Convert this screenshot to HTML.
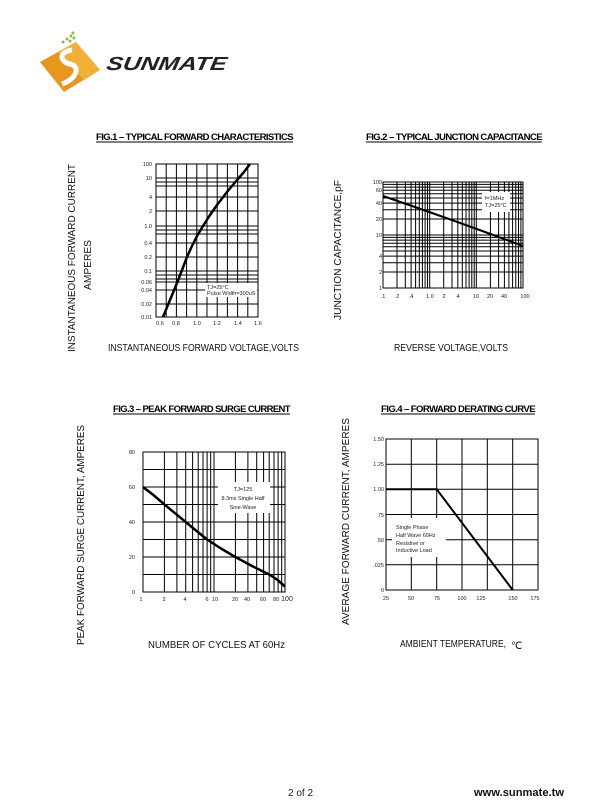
<!DOCTYPE html>
<html><head><meta charset="utf-8"><style>
html,body{margin:0;padding:0;background:#fff}
svg{display:block;font-family:"Liberation Sans",Arial,sans-serif}
.g{stroke:#000;stroke-width:1;fill:none}
.t{font-size:5.5px;fill:#222}
.tt{font-size:9.5px;font-weight:bold;letter-spacing:-0.6px}
.ax{font-size:10px;fill:#111}
</style></head><body>
<svg width="610" height="810" viewBox="0 0 610 810" xmlns="http://www.w3.org/2000/svg">
<!-- Logo -->
<g>
<polygon points="40,62 76,42 100,70 64,92" fill="#e8961e"/>
<polygon points="58,52 76,42 100,70 84,80" fill="#f2b136"/>
<path d="M72,50 C58,52 60,62 70,64 C80,66 78,78 62,84" stroke="#fff" stroke-width="5" fill="none"/>
<g fill="#9ab34a"><circle cx="63" cy="42" r="1.5"/><circle cx="67" cy="39" r="1.5"/><circle cx="71" cy="36" r="1.5"/><circle cx="70" cy="41" r="1.5"/><circle cx="74" cy="38" r="1.5"/><circle cx="73" cy="33" r="1.5"/></g>
<text x="106" y="70" font-size="19" font-weight="bold" font-style="italic" fill="#222" textLength="120" lengthAdjust="spacingAndGlyphs" transform="skewX(-10) translate(12,0)">SUNMATE</text>
</g>

<!-- Titles -->
<text class="tt" x="96" y="140" textLength="197" lengthAdjust="spacingAndGlyphs">FIG.1 – TYPICAL FORWARD CHARACTERISTICS</text>
<line x1="96" y1="142" x2="293" y2="142" stroke="#000"/>
<text class="tt" x="366" y="140" textLength="176" lengthAdjust="spacingAndGlyphs">FIG.2 – TYPICAL JUNCTION CAPACITANCE</text>
<line x1="366" y1="142" x2="542" y2="142" stroke="#000"/>
<text class="tt" x="113" y="412" textLength="177" lengthAdjust="spacingAndGlyphs">FIG.3 – PEAK FORWARD SURGE CURRENT</text>
<line x1="113" y1="414" x2="290" y2="414" stroke="#000"/>
<text class="tt" x="381" y="412" textLength="154" lengthAdjust="spacingAndGlyphs">FIG.4 – FORWARD DERATING CURVE</text>
<line x1="381" y1="414" x2="535" y2="414" stroke="#000"/>

<!-- FIG1 -->
<g class="g">
<rect x="156" y="164" width="102" height="153"/>
<path d="M166.2,164V317M176.4,164V317M186.6,164V317M196.8,164V317M207,164V317M217.2,164V317M227.4,164V317M237.6,164V317M247.8,164V317"/>
<path d="M156,178H258M156,182H258M156,186H258M156,197H258M156,211H258M156,226H258M156,230H258M156,234H258M156,243H258M156,257H258M156,271H258M156,275H258M156,279H258M156,282H258M156,290H258M156,304H258"/>
</g>
<rect x="205" y="283" width="52" height="14" fill="#fff"/>
<text class="t" x="207" y="289">TJ=25°C</text>
<text class="t" x="207" y="295">Pulse Width=300uS</text>
<polyline points="163,317 170,300 177,283 182,270 187,257 192,246 197,236 203,226 210,215 217,205 227,192 237,180 244,172 250,164" stroke="#000" stroke-width="2.5" fill="none" stroke-linejoin="round"/>
<g class="t" text-anchor="end">
<text x="152" y="166">100</text><text x="152" y="180">10</text><text x="152" y="199">4</text><text x="152" y="213">2</text><text x="152" y="228">1.0</text><text x="152" y="245">0.4</text><text x="152" y="259">0.2</text><text x="152" y="273">0.1</text><text x="152" y="284">0.06</text><text x="152" y="292">0.04</text><text x="152" y="306">0.02</text><text x="152" y="319">0.01</text>
</g>
<g class="t" text-anchor="middle">
<text x="160" y="325">0.6</text><text x="176" y="325">0.8</text><text x="197" y="325">1.0</text><text x="217" y="325">1.2</text><text x="238" y="325">1.4</text><text x="258" y="325">1.6</text>
</g>
<text class="ax" x="108" y="351" textLength="191" lengthAdjust="spacingAndGlyphs">INSTANTANEOUS FORWARD VOLTAGE,VOLTS</text>
<text class="ax" transform="translate(75,352) rotate(-90)" textLength="188" lengthAdjust="spacingAndGlyphs">INSTANTANEOUS FORWARD CURRENT</text>
<text class="ax" transform="translate(91,290) rotate(-90)" textLength="50" lengthAdjust="spacingAndGlyphs">AMPERES</text>

<!-- FIG2 -->
<g class="g">
<rect x="383" y="182" width="140" height="106"/>
<path d="M397,182V288M405.3,182V288M411.1,182V288M415.6,182V288M419.3,182V288M422.4,182V288M425.1,182V288M427.5,182V288M429.7,182V288M443.7,182V288M452,182V288M457.8,182V288M462.3,182V288M466,182V288M469.1,182V288M471.8,182V288M474.2,182V288M476.3,182V288M490.4,182V288M498.6,182V288M504.4,182V288M508.9,182V288M512.6,182V288M515.8,182V288M518.5,182V288M520.9,182V288"/>
<path d="M383,272H523M383,262.7H523M383,256.1H523M383,251H523M383,246.8H523M383,243.2H523M383,240.1H523M383,237.4H523M383,235H523M383,219H523M383,209.7H523M383,203.1H523M383,198H523M383,193.8H523M383,190.2H523M383,187.1H523M383,184.4H523"/>
</g>
<rect x="482" y="192" width="28" height="20" fill="#fff"/>
<text class="t" x="485" y="200" font-size="5">f=1MHz</text>
<text class="t" x="485" y="207" font-size="5">TJ=25°C</text>
<path d="M383,196 C430,212 480,230 523,246" stroke="#000" stroke-width="2" fill="none"/>
<g class="t" text-anchor="end">
<text x="382" y="184">100</text><text x="382" y="192">60</text><text x="382" y="205">40</text><text x="382" y="221">20</text><text x="382" y="237">10</text><text x="382" y="258">4</text><text x="382" y="274">2</text><text x="382" y="290">1</text>
</g>
<g class="t" text-anchor="middle">
<text x="383" y="298">.1</text><text x="397" y="298">.2</text><text x="411" y="298">.4</text><text x="430" y="298">1.0</text><text x="444" y="298">2</text><text x="458" y="298">4</text><text x="476" y="298">10</text><text x="490" y="298">20</text><text x="504" y="298">40</text><text x="525" y="298">100</text>
</g>
<text class="ax" x="394" y="351" textLength="114" lengthAdjust="spacingAndGlyphs">REVERSE VOLTAGE,VOLTS</text>
<text class="ax" transform="translate(341,320) rotate(-90)" textLength="140" lengthAdjust="spacingAndGlyphs">JUNCTION CAPACITANCE,pF</text>

<!-- FIG3 -->
<g class="g">
<rect x="143" y="452" width="142" height="140"/>
<path d="M164.4,452V592M176.9,452V592M185.7,452V592M192.6,452V592M198.2,452V592M203,452V592M207.1,452V592M210.7,452V592M214,452V592M235.4,452V592M247.9,452V592M256.7,452V592M263.6,452V592M269.2,452V592M274,452V592M278.1,452V592M281.7,452V592"/>
<path d="M143,469.5H285M143,487H285M143,504.5H285M143,522H285M143,539.5H285M143,557H285M143,574.5H285"/>
</g>
<rect x="218" y="482" width="52" height="31" fill="#fff"/>
<g class="t" text-anchor="middle" font-size="6">
<text x="243" y="491">TJ=125</text><text x="243" y="500">8.3ms Single Half</text><text x="243" y="509">Sine-Wave</text>
</g>
<polyline points="143,487 154,495.5 164.4,504.5 175,513.2 185.7,522 196,530.5 207.1,539.5 221,548.5 235.4,557 252,566 269.2,574.5 277,579.5 285,586.5" stroke="#000" stroke-width="2.5" fill="none" stroke-linejoin="round"/>
<g class="t" text-anchor="end">
<text x="135" y="454">80</text><text x="135" y="489">60</text><text x="135" y="524">40</text><text x="135" y="559">20</text><text x="135" y="594">0</text>
</g>
<g class="t" text-anchor="middle">
<text x="141" y="601">1</text><text x="164" y="601">2</text><text x="185" y="601">4</text><text x="207" y="601">6</text><text x="215" y="601">10</text><text x="235" y="601">20</text><text x="247" y="601">40</text><text x="263" y="601">60</text><text x="276" y="601">80</text><text x="287" y="601" font-size="7">100</text>
</g>
<text class="ax" x="148" y="648" textLength="137" lengthAdjust="spacingAndGlyphs">NUMBER OF CYCLES AT 60Hz</text>
<text class="ax" transform="translate(84,645) rotate(-90)" textLength="220" lengthAdjust="spacingAndGlyphs">PEAK FORWARD SURGE CURRENT, AMPERES</text>

<!-- FIG4 -->
<g class="g">
<rect x="386" y="439" width="152" height="151"/>
<path d="M411.3,439V590M436.7,439V590M462,439V590M487.3,439V590M512.7,439V590"/>
<path d="M386,464.2H538M386,489.3H538M386,514.5H538M386,539.7H538M386,564.8H538"/>
</g>
<rect x="392" y="518" width="54" height="39" fill="#fff"/>
<g class="t" font-size="5.5">
<text x="396" y="529">Single Phase</text><text x="396" y="537">Half Wave 60Hz</text><text x="396" y="545">Resistive or</text><text x="396" y="552">Inductive Load</text>
</g>
<path d="M386,489.3H436.7L512.7,590" stroke="#000" stroke-width="2" fill="none"/>
<g class="t" text-anchor="end">
<text x="384" y="441">1.50</text><text x="384" y="466">1.25</text><text x="384" y="491">1.00</text><text x="384" y="517">.75</text><text x="384" y="542">.50</text><text x="384" y="567">.025</text><text x="384" y="592">0</text>
</g>
<g class="t" text-anchor="middle">
<text x="386" y="600">25</text><text x="411" y="600">50</text><text x="437" y="600">75</text><text x="462" y="600">100</text><text x="481" y="600">125</text><text x="513" y="600">150</text><text x="535" y="600">175</text>
</g>
<text class="ax" x="400" y="647" textLength="106" lengthAdjust="spacingAndGlyphs">AMBIENT TEMPERATURE,</text>
<text class="ax" x="511" y="649" font-size="9">℃</text>
<text class="ax" transform="translate(349,625) rotate(-90)" textLength="207" lengthAdjust="spacingAndGlyphs">AVERAGE FORWARD CURRENT, AMPERES</text>

<!-- Footer -->
<text x="288" y="796" font-size="10" fill="#222">2 of 2</text>
<text x="474" y="796" font-size="11" font-weight="bold" fill="#111" textLength="90" lengthAdjust="spacingAndGlyphs">www.sunmate.tw</text>
</svg>
</body></html>
